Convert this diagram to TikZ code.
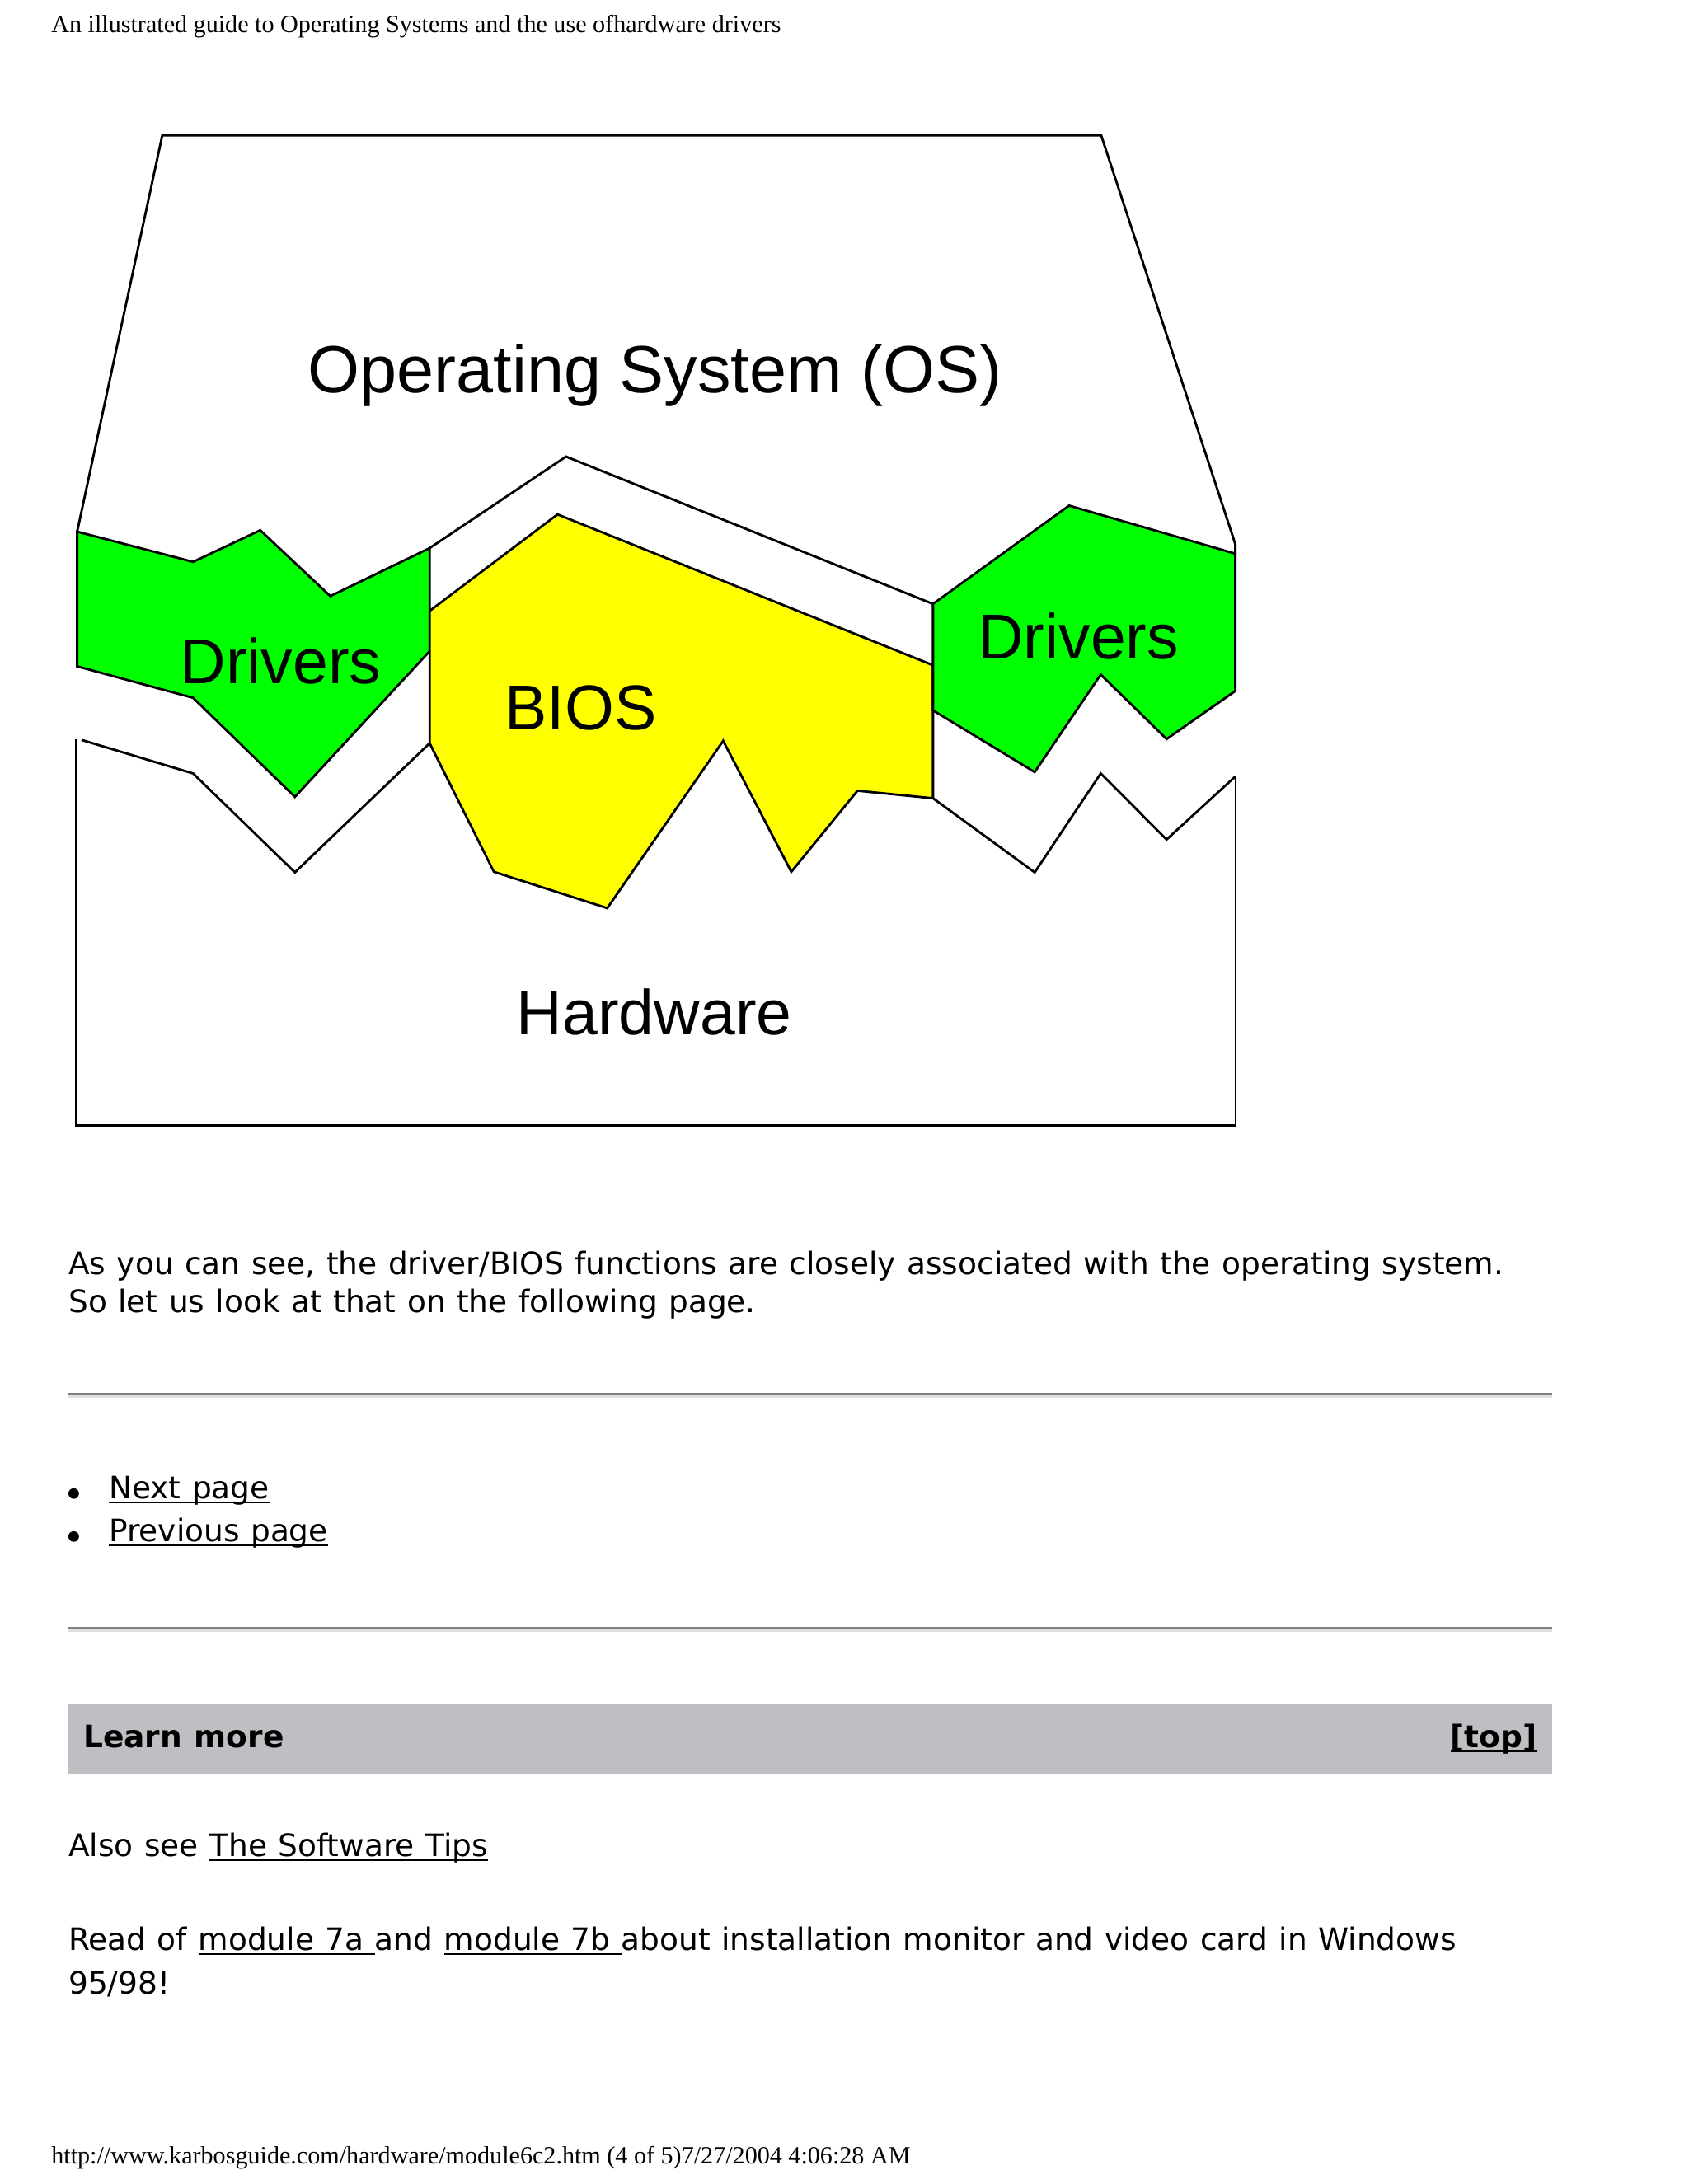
\documentclass[tikz,border=0pt]{standalone}
\usepackage{fontspec}
\newfontfamily\vfont[WordSpace=1.13]{DejaVu Sans}
\newfontfamily\afont{Liberation Sans}
\newfontfamily\tfont{Liberation Serif}
\definecolor{drvgreen}{RGB}{0,255,0}
\definecolor{biosyellow}{RGB}{255,255,0}
\definecolor{bargray}{RGB}{192,190,194}
\definecolor{ruledark}{RGB}{128,128,128}
\definecolor{rulelight}{RGB}{224,224,224}
\newcommand\ulk[1]{\setbox0\hbox{#1}\rlap{\rule[-1.8pt]{\wd0}{0.6pt}}\box0}
\tikzset{
  outl/.style={draw=black, line width=0.85pt, line join=miter},
  lbl/.style={font=\afont\fontsize{23}{27}\selectfont, inner sep=0pt, anchor=base},
  bodytxt/.style={font=\vfont\fontsize{11.2}{13.5}\selectfont, inner sep=0pt, anchor=base west},
  boldtxt/.style={font=\vfont\bfseries\fontsize{11.2}{13.5}\selectfont, inner sep=0pt},
  serifsmall/.style={font=\tfont\fontsize{9}{11}\selectfont, inner sep=0pt, anchor=base west},
}
\begin{document}
\begin{tikzpicture}[x=0.50495pt,y=-0.50495pt]
\path[use as bounding box, fill=white] (0,0) rectangle (1212,1568);

% header / footer
\node[serifsmall] (head) at (36.5,23.1) {An illustrated guide to Operating Systems and the use ofhardware drivers};
\node[serifsmall] (foot) at (36.5,1553.4) {http://www.karbosguide.com/hardware/module6c2.htm (4 of 5)7/27/2004 4:06:28 AM};

% ---------- diagram ----------
% Operating system outline
\draw[outl] (55.4,381.7) -- (116.5,97.1) -- (790.4,97.1) -- (886.7,390.6) -- (886.7,397.5);
\draw[outl] (308.4,393.5) -- (406.3,327.8) -- (669.7,433.6);
% Hardware outline
\draw[outl] (54.8,530.6) -- (54.8,808.1) -- (886.9,808.1) -- (886.9,557.3);
\draw[outl] (58.5,531.2) -- (138.6,555.3) -- (211.7,626.3) -- (308.4,533.6);
\draw[outl] (669.7,573.1) -- (742.7,626.3) -- (790.1,555.3) -- (837.4,602.7) -- (886.9,557.3);
% Left drivers
\draw[outl, fill=drvgreen] (55.4,381.7) -- (138.6,403.4) -- (186.8,380.7) -- (237.1,428.0)
  -- (308.4,393.5) -- (308.4,467.5) -- (211.7,572.1) -- (138.6,501.0) -- (55.4,478.4) -- cycle;
% BIOS
\draw[outl, fill=biosyellow] (308.4,438.6) -- (400.2,369.3) -- (669.7,477.6) -- (669.7,573.1)
  -- (615.5,567.7) -- (568.0,625.9) -- (519.1,531.9) -- (435.9,652.0) -- (354.5,625.9)
  -- (308.4,533.6) -- cycle;
% Right drivers
\draw[outl, fill=drvgreen] (669.7,433.6) -- (767.4,363.0) -- (886.7,397.5) -- (886.7,496.1)
  -- (837.4,530.6) -- (790.1,484.3) -- (742.7,554.3) -- (669.7,510.0) -- cycle;

% labels
\node[lbl, font=\afont\fontsize{24.2}{28}\selectfont] (os) at (470.2,281.7) {Operating System (OS)};
\node[lbl] (drvL) at (201.4,490.8) {Drivers};
\node[lbl] (bios) at (416.8,524.0) {BIOS};
\node[lbl] (drvR) at (774.0,473.0) {Drivers};
\node[lbl] (hw) at (469.7,743.0) {Hardware};

% ---------- text ----------
\node[bodytxt] (p1a) at (48.9,915.3) {As you can see, the driver/BIOS functions are closely associated with the operating system.};
\node[bodytxt] (p1b) at (48.9,942.0) {So let us look at that on the following page.};

% rule 1
\fill[ruledark] (48.5,1000.0) rectangle (1114,1001.8);
\fill[rulelight] (48.5,1001.8) rectangle (1114,1003.5);

% bullets
\fill (52.9,1072.3) circle[radius=3.8];
\fill (52.9,1103.1) circle[radius=3.8];
\node[bodytxt] (next) at (77.9,1075.7) {\ulk{Next page}};
\node[bodytxt] (prev) at (77.9,1106.7) {\ulk{Previous page}};

% rule 2
\fill[ruledark] (48.5,1168.2) rectangle (1114,1169.9);
\fill[rulelight] (48.5,1169.9) rectangle (1114,1171.6);

% learn more bar
\fill[bargray] (48.5,1223.4) rectangle (1114,1273.9);
\node[boldtxt, anchor=base west] (learn) at (59.6,1254.6) {Learn more};
\node[boldtxt, anchor=base east] (top) at (1103.5,1254.6) {\ulk{[top]}};

\node[bodytxt] (also) at (48.9,1332.5) {Also see \ulk{The Software Tips}};
\node[bodytxt] (read) at (48.9,1400.2) {Read of \ulk{module 7a }and \ulk{module 7b }about installation monitor and video card in Windows};
\node[bodytxt] (read2) at (48.9,1431.5) {95/98!};
\end{tikzpicture}
\end{document}
